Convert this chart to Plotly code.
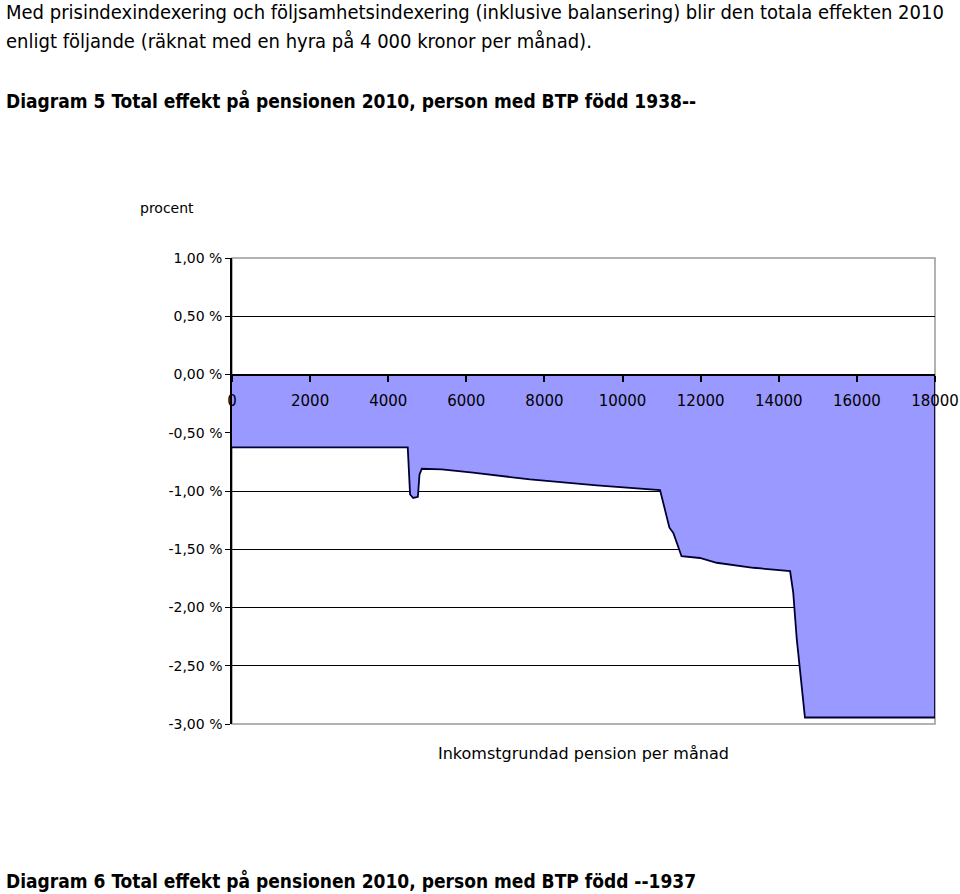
import plotly.graph_objects as go

# ---- data ----
income = [0, 4500, 4560, 4640, 4760, 4800, 4860, 5370, 6170, 7630, 9340, 10270, 10960,
          11200, 11300, 11510, 11980, 12410, 13350, 14290, 14370, 14460, 14670, 18000]
effect = [-0.626, -0.626, -1.03, -1.06, -1.05, -0.86, -0.809, -0.815, -0.843, -0.90, -0.952,
          -0.978, -0.992, -1.315, -1.36, -1.56, -1.575, -1.616, -1.659, -1.687, -1.873,
          -2.27, -2.944, -2.944]

y_tickvals = [1.0, 0.5, 0.0, -0.5, -1.0, -1.5, -2.0, -2.5, -3.0]
y_ticktext = ["1,00 %", "0,50 %", "0,00 %", "-0,50 %", "-1,00 %", "-1,50 %", "-2,00 %", "-2,50 %", "-3,00 %"]
x_tickvals = [0, 2000, 4000, 6000, 8000, 10000, 12000, 14000, 16000, 18000]
x_ticktext = [str(v) for v in x_tickvals]

intro_1 = "Med prisindexindexering och följsamhetsindexering (inklusive balansering) blir den totala effekten 2010"
intro_2 = "enligt följande (räknat med en hyra på 4 000 kronor per månad)."
heading_5 = "Diagram 5 Total effekt på pensionen 2010, person med BTP född 1938--"
heading_6 = "Diagram 6 Total effekt på pensionen 2010, person med BTP född --1937"
y_title = "procent"
x_title = "Inkomstgrundad pension per månad"

W, H = 960, 894
L, R, T, B = 232, 935, 258, 724

def px(x):
    return (x - L) / (R - L)

def py(y):
    return (B - y) / (B - T)

fig = go.Figure()
fig.add_trace(go.Scatter(
    x=income, y=effect, mode="lines", fill="tozeroy",
    fillcolor="#9999FF", line=dict(color="#000033", width=1.8, shape="linear"),
    hoverinfo="skip", showlegend=False,
))
# right closing edge of the area
fig.add_trace(go.Scatter(
    x=[income[-1], income[-1]], y=[effect[-1], 0], mode="lines",
    line=dict(color="#000033", width=1.8), hoverinfo="skip", showlegend=False,
))

fig.update_layout(
    width=W, height=H,
    margin=dict(l=L, r=W - R, t=T, b=H - B, autoexpand=False),
    paper_bgcolor="white", plot_bgcolor="white",
    xaxis=dict(
        range=[0, 18000], tickvals=x_tickvals, ticktext=x_ticktext,
        anchor="free", position=0.75, showline=True, linecolor="black", linewidth=2,
        ticks="outside", ticklen=6, tickcolor="black", tickwidth=1.5,
        ticklabelstandoff=6, automargin=False,
        showgrid=False, zeroline=False, layer="above traces",
        tickfont=dict(family="DejaVu Sans", size=15, color="black"),
    ),
    yaxis=dict(
        range=[-3, 1], tickvals=y_tickvals, ticktext=y_ticktext,
        showline=True, linecolor="black", linewidth=1.5, automargin=False,
        ticks="outside", ticklen=5, tickcolor="black",
        showgrid=True, gridcolor="black", gridwidth=1, zeroline=False,
        tickfont=dict(family="DejaVu Sans", size=14, color="black"),
    ),
    shapes=[dict(type="rect", xref="paper", yref="paper", x0=0, x1=1, y0=0, y1=1,
                 line=dict(color="#999999", width=1.5), layer="below")],
)

doc_font = dict(family="DejaVu Sans Condensed, DejaVu Sans", size=20, color="black")
bold_font = dict(family="DejaVu Sans Condensed, DejaVu Sans", size=19, color="black")
anns = [
    (intro_1, 4, 12, doc_font),
    (intro_2, 4, 41, doc_font),
    ("<b>" + heading_5 + "</b>", 4, 101, bold_font),
    ("<b>" + heading_6 + "</b>", 4, 880, bold_font),
]
for text, x, y, f in anns:
    fig.add_annotation(text=text, xref="paper", yref="paper", x=px(x), y=py(y),
                       xanchor="left", yanchor="middle", showarrow=False, font=f)

fig.add_annotation(text=y_title, xref="paper", yref="paper", x=px(138), y=py(208),
                   xanchor="left", yanchor="middle", showarrow=False,
                   font=dict(family="DejaVu Sans", size=14, color="black"))
fig.add_annotation(text=x_title, xref="paper", yref="paper", x=px(583), y=py(753),
                   xanchor="center", yanchor="middle", showarrow=False,
                   font=dict(family="DejaVu Sans", size=16, color="black"))

fig.write_html("out.html")
